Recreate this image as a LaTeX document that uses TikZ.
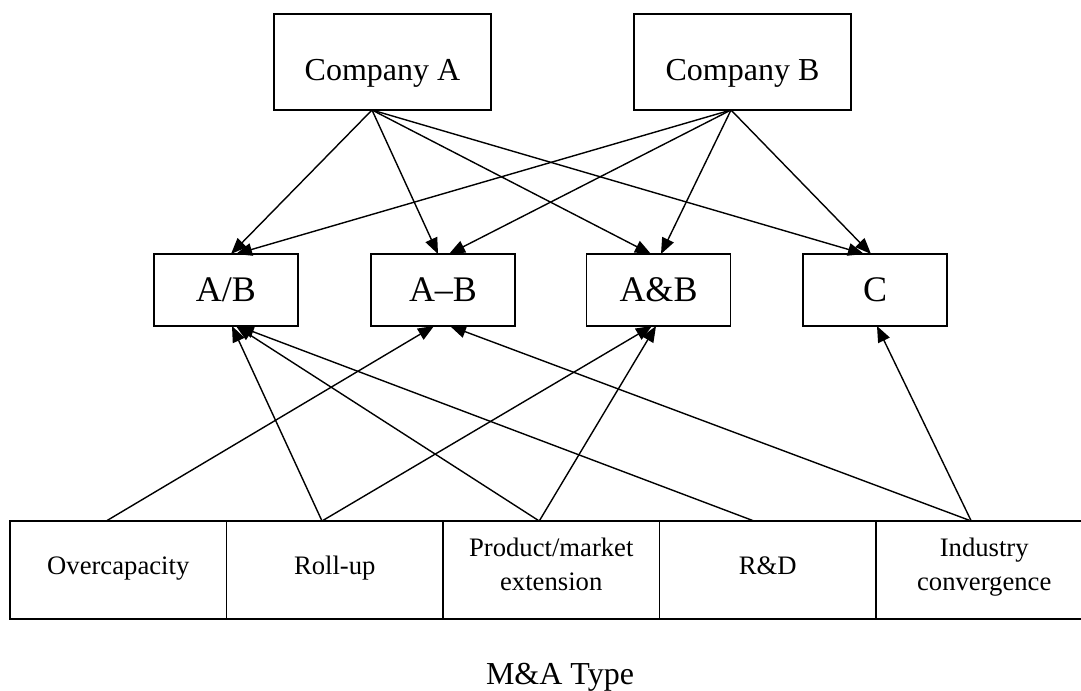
\documentclass[tikz,border=0pt]{standalone}
\usepackage{fontspec}
\setmainfont{Liberation Serif}
\usetikzlibrary{arrows.meta,calc}

\begin{document}
\begin{tikzpicture}[x=0.75pt,y=-0.75pt,
  every node/.style={inner sep=0pt, outer sep=0pt},
  firm/.style={draw, line width=1.1pt, minimum width=162.75pt, minimum height=72pt,
    font=\fontsize{24pt}{28pt}\selectfont, text height=27pt, text depth=0pt},
  deal/.style={draw, line width=1.1pt, minimum width=108pt, minimum height=54pt,
    font=\fontsize{27pt}{31pt}\selectfont, text height=16.5pt, text depth=0pt},
  kind/.style={draw, line width=1.1pt, minimum width=162.4pt, minimum height=73.5pt,
    font=\fontsize{20pt}{25.5pt}\selectfont, text height=6pt, text depth=0pt},
  kindtwo/.style={kind, text height=0pt, text depth=21pt},
  link/.style={line width=1.05pt, -{Triangle[length=12pt,width=9.5pt]}},
]
\useasboundingbox (0,0) rectangle (1081,690);

% merging companies
\node[firm] (ca) at (382.5,62) {Company A};
\node[firm] (cb) at (742.5,62) {Company B};

% outcomes
\node[deal] (ab)  at (226,290)   {A/B};
\node[deal] (amb) at (443,290)   {A--B};
\node[deal] (anb) at (658.5,290) {A\&B};
\node[deal] (c)   at (875,290)   {C};

% M&A types
\node[kind] (over) at (118.25,570) {Overcapacity};
\node[kind] (roll) at (334.75,570) {Roll-up};
\node[kindtwo] (prod) at (551.25,570) {\parbox[t]{150pt}{\centering Product/market\\extension}};
\node[kind] (rnd)  at (767.75,570) {R\&D};
\node[kindtwo] (conv) at (984.25,570) {\parbox[t]{150pt}{\centering Industry\\convergence}};
\draw[line width=1.6pt] (over.south west) -- (conv.south east);

\node[anchor=base, font=\fontsize{24pt}{28pt}\selectfont] (title) at (560,684) {M\&A Type};

% start points
\coordinate (pa) at ($(ca.south)+(-10.5,0)$);
\coordinate (pb) at ($(cb.south)+(-11.5,0)$);
\coordinate (po) at ($(over.north)+(-12,0)$);
\coordinate (pr) at ($(roll.north)+(-12.75,0)$);
\coordinate (pp) at ($(prod.north)+(-12,0)$);
\coordinate (pd) at ($(rnd.north)+(-13.75,0)$);
\coordinate (pi) at ($(conv.north)+(-13,0)$);

% company links
\draw[link] (pa) -- ($(ab.north)+(5,0)$);
\draw[link] (pa) -- ($(amb.north)+(-5,0)$);
\draw[link] (pa) -- ($(anb.north)+(-7.5,0)$);
\draw[link] (pa) -- ($(c.north)+(-11,0)$);
\draw[link] (pb) -- ($(ab.north)+(10,0)$);
\draw[link] (pb) -- ($(amb.north)+(6,0)$);
\draw[link] (pb) -- ($(anb.north)+(2.5,0)$);
\draw[link] (pb) -- ($(c.north)+(-4,0)$);

% type links
\draw[link] (po) -- ($(amb.south)+(-9,0)$);
\draw[link] (pr) -- ($(ab.south)+(6,0)$);
\draw[link] (pr) -- ($(anb.south)+(-6.5,0)$);
\draw[link] (pp) -- ($(ab.south)+(10,0)$);
\draw[link] (pp) -- ($(anb.south)+(-2.5,0)$);
\draw[link] (pd) -- ($(ab.south)+(12,0)$);
\draw[link] (pi) -- ($(amb.south)+(7,0)$);
\draw[link] (pi) -- ($(c.south)+(2,0)$);
\end{tikzpicture}
\end{document}
